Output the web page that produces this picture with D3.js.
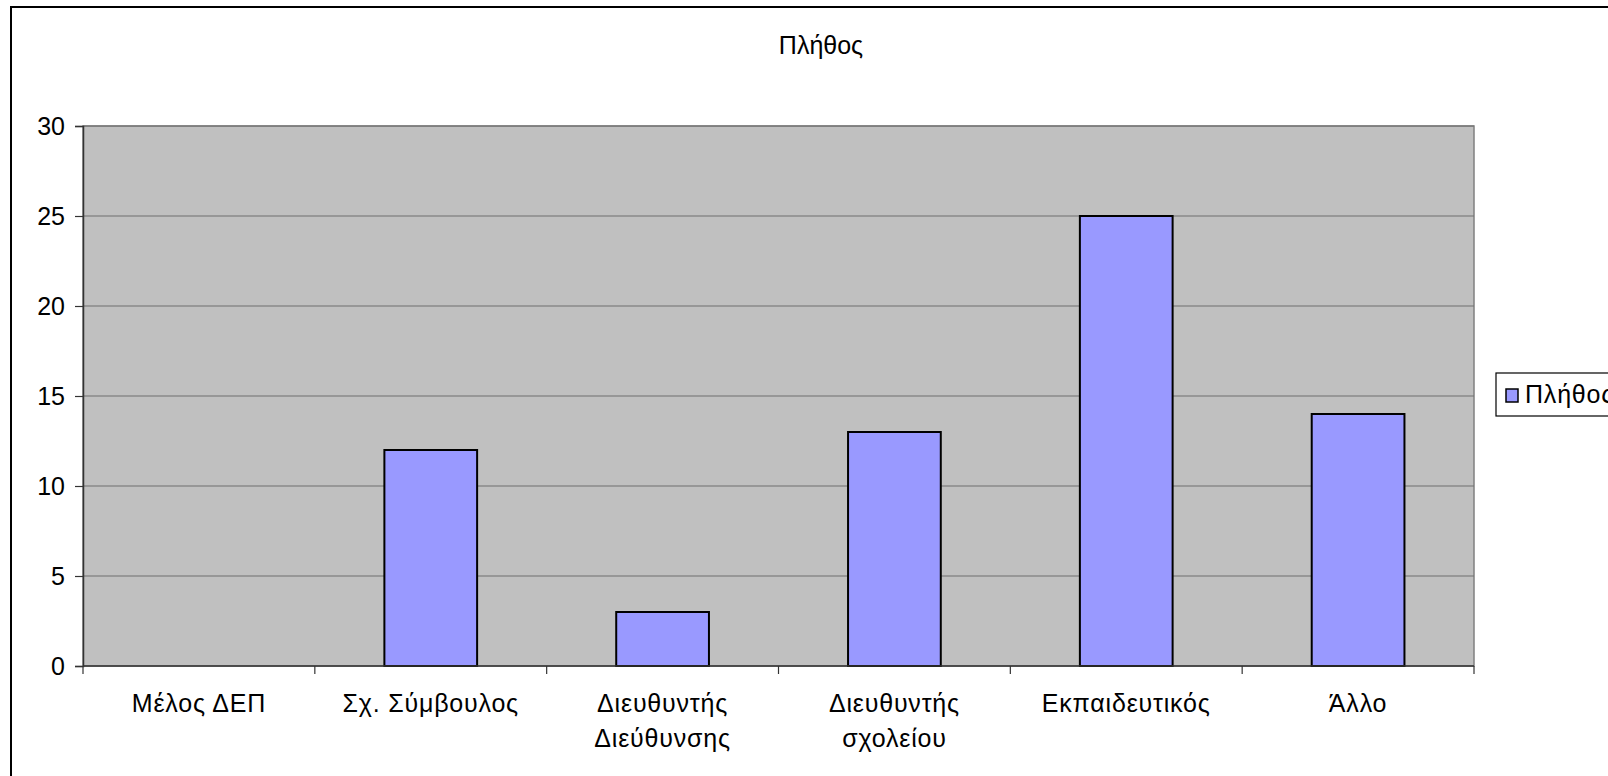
<!DOCTYPE html>
<html>
<head>
<meta charset="utf-8">
<script src="https://cdn.jsdelivr.net/npm/d3@7"></script>
<style>
  html, body { margin: 0; padding: 0; background: #fff; overflow: hidden; }
  svg { display: block; font-family: "Liberation Sans", Arial, sans-serif; }
</style>
</head>
<body>
<svg id="chart" width="1608" height="776"></svg>
<script>
const categories = ["Μέλος ΔΕΠ", "Σχ. Σύμβουλος", "Διευθυντής Διεύθυνσης", "Διευθυντής σχολείου", "Εκπαιδευτικός", "Άλλο"];
const categoryLines = [["Μέλος ΔΕΠ"], ["Σχ. Σύμβουλος"], ["Διευθυντής", "Διεύθυνσης"], ["Διευθυντής", "σχολείου"], ["Εκπαιδευτικός"], ["Άλλο"]];
const values = [0, 12, 3, 13, 25, 14];
const yTicks = [0, 5, 10, 15, 20, 25, 30];
const seriesName = "Πλήθος";
const chartTitle = "Πλήθος";

const svg = d3.select("#chart");
const FS = 25;
const plot = { left: 83, top: 126, right: 1474, bottom: 666 };

// outer frame
svg.append("rect")
  .attr("x", 11).attr("y", 7).attr("width", 1640).attr("height", 820)
  .attr("fill", "#fff").attr("stroke", "#000").attr("stroke-width", 2);

const x = d3.scaleBand().domain(categories).range([plot.left, plot.right]).padding(0);
const y = d3.scaleLinear().domain([0, 30]).range([plot.bottom, plot.top]);

// plot background
svg.append("rect")
  .attr("x", plot.left).attr("y", plot.top)
  .attr("width", plot.right - plot.left).attr("height", plot.bottom - plot.top)
  .attr("fill", "#c0c0c0").attr("stroke", "#808080").attr("stroke-width", 1.5);

// gridlines
svg.append("g").selectAll("line").data(yTicks.filter(d => d > 0)).join("line")
  .attr("x1", plot.left).attr("x2", plot.right)
  .attr("y1", d => y(d)).attr("y2", d => y(d))
  .attr("stroke", "#6e6e6e").attr("stroke-width", 1.2);

// bars
const barW = x.bandwidth() * 0.4;
svg.append("g").selectAll("rect").data(values.map((v, i) => ({ c: categories[i], v })).filter(d => d.v > 0)).join("rect")
  .attr("x", d => x(d.c) + (x.bandwidth() - barW) / 2)
  .attr("y", d => y(d.v))
  .attr("width", barW)
  .attr("height", d => y(0) - y(d.v))
  .attr("fill", "#9999ff").attr("stroke", "#000").attr("stroke-width", 2);

// y axis
const yAxis = d3.axisLeft(y).tickValues(yTicks).tickSize(8).tickPadding(10).tickFormat(d3.format("d"));
const gy = svg.append("g").attr("transform", `translate(${plot.left},0)`).call(yAxis);
gy.select(".domain").attr("stroke", "#333").attr("stroke-width", 1.5);
gy.selectAll(".tick line").attr("stroke", "#333").attr("stroke-width", 1.2);
gy.selectAll(".tick text").attr("font-size", FS).attr("fill", "#000")
  .attr("font-family", "Liberation Sans, Arial, sans-serif");

// x axis (ticks at band boundaries)
const gx = svg.append("g");
gx.append("line").attr("x1", plot.left).attr("x2", plot.right)
  .attr("y1", plot.bottom).attr("y2", plot.bottom)
  .attr("stroke", "#333").attr("stroke-width", 1.5);
const boundaries = categories.map(c => x(c)).concat([x(categories[categories.length - 1]) + x.bandwidth()]);
gx.selectAll("line.tk").data(boundaries).join("line").attr("class", "tk")
  .attr("x1", d => d).attr("x2", d => d)
  .attr("y1", plot.bottom).attr("y2", plot.bottom + 8)
  .attr("stroke", "#333").attr("stroke-width", 1.2);

const labels = gx.selectAll("text.cat").data(categories).join("text").attr("class", "cat")
  .attr("text-anchor", "middle").attr("font-size", FS).attr("fill", "#000")
  .attr("letter-spacing", 0.8)
  .attr("x", d => x(d) + x.bandwidth() / 2)
  .attr("y", 712);
labels.each(function(d, i) {
  const t = d3.select(this);
  categoryLines[i].forEach((line, j) => {
    t.append("tspan").attr("x", x(d) + x.bandwidth() / 2).attr("dy", j === 0 ? 0 : 35).text(line);
  });
});

// title
svg.append("text").attr("x", 821).attr("y", 54).attr("text-anchor", "middle")
  .attr("font-size", FS).attr("fill", "#000").text(chartTitle);

// legend
const lg = svg.append("g");
lg.append("rect").attr("x", 1496).attr("y", 373).attr("width", 160).attr("height", 43)
  .attr("fill", "#fff").attr("stroke", "#000").attr("stroke-width", 1.2);
lg.append("rect").attr("x", 1506).attr("y", 389).attr("width", 12).attr("height", 13)
  .attr("fill", "#9999ff").attr("stroke", "#000").attr("stroke-width", 1.5);
lg.append("text").attr("x", 1525).attr("y", 403).attr("font-size", FS).attr("letter-spacing", 0.8)
  .attr("fill", "#000").text(seriesName);
</script>
</body>
</html>
